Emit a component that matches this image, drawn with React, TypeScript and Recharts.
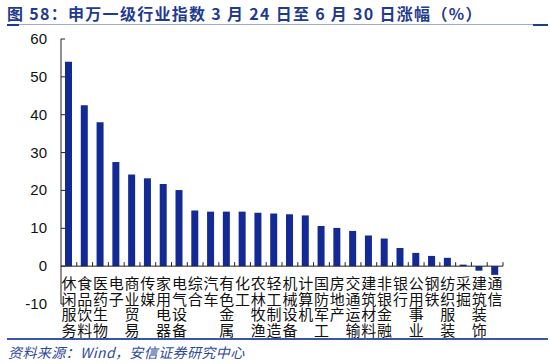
import React from 'react';
import { BarChart, Bar, XAxis, YAxis, ReferenceLine } from 'recharts';

const categories = [
  '休闲服务', '食品饮料', '医药生物', '电子', '商业贸易', '传媒', '家用电器', '电气设备',
  '综合', '汽车', '有色金属', '化工', '农林牧渔', '轻工制造', '机械设备', '计算机',
  '国防军工', '房地产', '交通运输', '建筑材料', '非银金融', '银行', '公用事业', '钢铁',
  '纺织服装', '采掘', '建筑装饰', '通信',
];
const values = [
  54.0, 42.5, 38.0, 27.5, 24.2, 23.2, 21.7, 20.1,
  14.7, 14.4, 14.4, 14.4, 14.1, 13.9, 13.7, 13.4,
  10.6, 10.1, 9.3, 8.1, 7.3, 4.8, 3.5, 2.7,
  2.2, 0.4, -1.2, -2.3,
];
const yTicks = [-10, 0, 10, 20, 30, 40, 50, 60];

const data = categories.map((name, i) => ({ name, value: values[i] }));

const W = 550;
const H = 364;
const TOP = 39;
const BOTTOM = 60;
const LEFT = 61;
const RIGHT = 47;
const PLOT_H = H - TOP - BOTTOM;
const PLOT_W = W - LEFT - RIGHT;
const Y_MIN = -10;
const Y_MAX = 60;
const zeroY = TOP + (PLOT_H * Y_MAX) / (Y_MAX - Y_MIN);
const band = PLOT_W / categories.length;

const BLUE = '#132A96';
const TITLE_BLUE = '#1F3B8E';

const XTick = (props: any) => {
  const { x, payload } = props;
  return (
    <g>
      <line x1={x + band / 2} x2={x + band / 2} y1={zeroY} y2={zeroY - 4} stroke="#222" strokeWidth={1} />
      <text
        x={x}
        y={zeroY + 9.5}
        fontSize={15}
        fontFamily="'Noto Sans CJK SC', sans-serif"
        fill="#111"
        style={{ writingMode: 'vertical-rl', letterSpacing: 0.7 } as any}
      >
        {payload.value}
      </text>
    </g>
  );
};

const YTick = (props: any) => {
  const { y, payload } = props;
  return (
    <g>
      <line x1={LEFT} x2={LEFT + 4} y1={y} y2={y} stroke="#222" strokeWidth={1} />
      <text
        x={LEFT - 14}
        y={y}
        dy={5}
        textAnchor="end"
        fontSize={15}
        fontFamily="'Liberation Sans', Arial, sans-serif"
        fill="#111"
      >
        {payload.value}
      </text>
    </g>
  );
};

export default function App() {
  return (
    <div style={{ position: 'absolute', left: 0, top: 0, width: W, height: H, background: '#fff' }}>
      <div
        style={{
          position: 'absolute',
          left: 7,
          top: 1,
          fontFamily: "'Noto Sans CJK SC', sans-serif",
          fontWeight: 700,
          fontSize: 16,
          color: TITLE_BLUE,
          whiteSpace: 'nowrap',
          letterSpacing: 1.3,
        }}
      >
        图 58：申万一级行业指数 3 月 24 日至 6 月 30 日涨幅（%）
      </div>
      <div style={{ position: 'absolute', left: 7, top: 24, width: 541, height: 1, background: '#9DAAD2' }} />
      <div style={{ position: 'absolute', left: 7, top: 24, width: 12, height: 1.5, background: TITLE_BLUE }} />
      <div style={{ position: 'absolute', left: 533, top: 24, width: 15, height: 1.5, background: TITLE_BLUE }} />
      <BarChart
        width={W}
        height={H}
        data={data}
        margin={{ top: TOP, right: RIGHT, bottom: BOTTOM - 30, left: 0 }}
        barCategoryGap={0}
      >
        <YAxis
          domain={[Y_MIN, Y_MAX]}
          ticks={yTicks}
          width={LEFT}
          axisLine={{ stroke: '#222' }}
          tickLine={false}
          tick={<YTick />}
          interval={0}
          allowDataOverflow
        />
        <XAxis
          dataKey="name"
          height={30}
          axisLine={false}
          tickLine={false}
          interval={0}
          tick={<XTick />}
        />
        <ReferenceLine y={0} stroke="#222" strokeWidth={1} />
        <Bar dataKey="value" fill={BLUE} barSize={7} isAnimationActive={false} />
      </BarChart>
      <div style={{ position: 'absolute', left: 7, top: 338, width: 541, height: 1.5, background: '#3A56A8' }} />
      <div
        style={{
          position: 'absolute',
          left: 8,
          top: 342,
          fontFamily: "'Noto Sans CJK SC', sans-serif",
          fontStyle: 'italic',
          fontSize: 14,
          color: '#2E4A9E',
          whiteSpace: 'nowrap',
          letterSpacing: 0.4,
        }}
      >
        资料来源：Wind，安信证券研究中心
      </div>
    </div>
  );
}
